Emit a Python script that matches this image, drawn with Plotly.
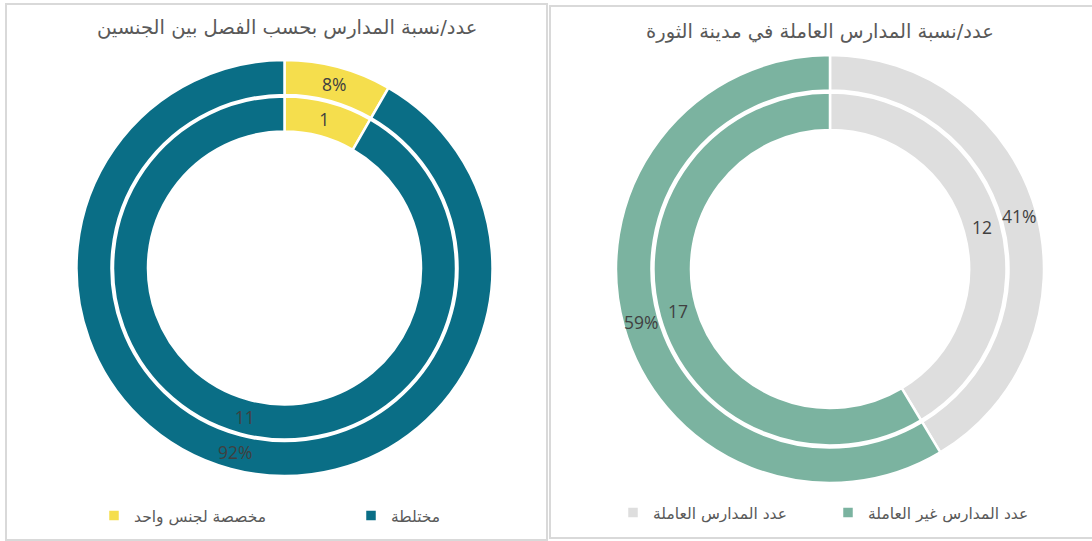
import math
import plotly.graph_objects as go

# ---------------- data ----------------
left_title = "عدد/نسبة المدارس بحسب الفصل بين الجنسين"
left_labels = ["مخصصة لجنس واحد", "مختلطة"]
left_values = [1, 11]
left_colors = ["#F5DE4D", "#0A6E86"]

right_title = "عدد/نسبة المدارس العاملة في مدينة الثورة"
right_labels = ["عدد المدارس العاملة", "عدد المدارس غير العاملة"]
right_values = [12, 17]
right_colors = ["#DEDEDE", "#7BB3A0"]

# ---------------- layout helpers ----------------
W, H = 1092, 541


def dom(cx, cy, r):
    return dict(x=[(cx - r) / W, (cx + r) / W], y=[(H - cy - r) / H, (H - cy + r) / H])


NUM_FONT = "Open Sans, Noto Sans, DejaVu Sans, sans-serif"
AR_FONT = "DejaVu Sans, Noto Sans, sans-serif"
LBL_COLOR = "#404040"
TXT_COLOR = "#595959"
LBL_SIZE = 17.5

fig = go.Figure()
annotations = []


def add_donut(labels, values, colors, cx, cy, r_out, r_mid_o, r_mid_i, r_in, legend):
    # outer ring: percentages (labels placed at the slice mid-angle, mid-ring)
    fig.add_trace(go.Pie(
        labels=labels, values=values, sort=False, direction="clockwise", rotation=0,
        domain=dom(cx, cy, r_out), hole=r_mid_o / r_out,
        marker=dict(colors=colors, line=dict(color="white", width=2.5)),
        textinfo="none", showlegend=False, legend=legend,
        hoverinfo="label+value+percent",
    ))
    total = sum(values)
    acc = 0
    r_lbl = (r_out + r_mid_o) / 2
    for v in values:
        mid = (acc + v / 2) / total * 2 * math.pi
        acc += v
        px = cx + r_lbl * math.sin(mid)
        py = cy - r_lbl * math.cos(mid)
        annotations.append(dict(
            text=f"{round(v / total * 100)}%", x=px / W, y=(H - py) / H,
            xref="paper", yref="paper", showarrow=False, xanchor="center", yanchor="middle",
            font=dict(family=NUM_FONT, size=LBL_SIZE, color=LBL_COLOR)))
    # inner ring: counts
    fig.add_trace(go.Pie(
        labels=labels, values=values, sort=False, direction="clockwise", rotation=0,
        domain=dom(cx, cy, r_mid_i), hole=r_in / r_mid_i,
        marker=dict(colors=colors, line=dict(color="white", width=2.5)),
        texttemplate="%{value}", textposition="inside",
        insidetextorientation="horizontal",
        textfont=dict(family=NUM_FONT, size=LBL_SIZE, color=LBL_COLOR),
        showlegend=True, legend=legend, hoverinfo="label+value+percent",
    ))


add_donut(left_labels, left_values, left_colors, 284.5, 268, 208, 173, 171.5, 136.5, "legend")
add_donut(right_labels, right_values, right_colors, 830, 269, 214, 178.5, 176.5, 139, "legend2")

shapes = [
    dict(type="rect", xref="paper", yref="paper", x0=6 / W, x1=547 / W, y0=(H - 540) / H, y1=(H - 4) / H,
         line=dict(color="#D9D9D9", width=2), fillcolor="rgba(0,0,0,0)", layer="below"),
    dict(type="rect", xref="paper", yref="paper", x0=550 / W, x1=1100 / W, y0=(H - 538) / H, y1=(H - 6) / H,
         line=dict(color="#D9D9D9", width=2), fillcolor="rgba(0,0,0,0)", layer="below"),
]

annotations += [
    dict(text=left_title, x=287 / W, y=(H - 28) / H, xref="paper", yref="paper", showarrow=False,
         xanchor="center", yanchor="middle", font=dict(family=AR_FONT, size=19.5, color=TXT_COLOR)),
    dict(text=right_title, x=820 / W, y=(H - 32) / H, xref="paper", yref="paper", showarrow=False,
         xanchor="center", yanchor="middle", font=dict(family=AR_FONT, size=19.5, color=TXT_COLOR)),
]

legend_common = dict(orientation="h", yanchor="middle", xanchor="left",
                     font=dict(family=AR_FONT, size=15.5, color=TXT_COLOR),
                     bgcolor="rgba(0,0,0,0)", traceorder="normal", entrywidthmode="pixels")

fig.update_layout(
    width=W, height=H, margin=dict(l=0, r=0, t=0, b=0),
    paper_bgcolor="white", plot_bgcolor="white",
    shapes=shapes, annotations=annotations,
    legend=dict(x=94 / W, y=25 / H, entrywidth=212, **legend_common),
    legend2=dict(x=613 / W, y=28 / H, entrywidth=170, **legend_common),
    uniformtext=dict(minsize=16, mode="show"),
)

fig.write_html("out.html", config={"displayModeBar": False},
               post_script="document.body.style.margin='0px';")
